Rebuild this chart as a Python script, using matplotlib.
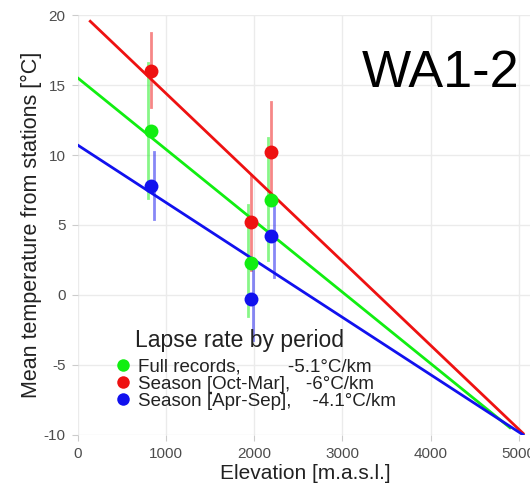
import matplotlib.pyplot as plt
from matplotlib.lines import Line2D
import numpy as np

plt.rcParams["font.family"] = ["Liberation Sans", "DejaVu Sans"]
plt.rcParams["axes.unicode_minus"] = False

# %%
legend_title = "Lapse rate by period"
periods = ["Full records,         -5.1°C/km",
           "Season [Oct-Mar],   -6°C/km",
           "Season [Apr-Sep],    -4.1°C/km"]
colors = ["#11EE11", "#EE1111", "#1111EE"]

station_elev = [830, 1960, 2190]

# mean temperature per period at each station
temp_full = [11.7, 2.3, 6.8]
temp_winter = [16.0, 5.2, 10.2]
temp_summer = [7.8, -0.3, 4.2]

# error bar ranges (low, high)
full_lo = [6.9, -1.5, 2.5]
full_hi = [16.6, 6.4, 11.2]
winter_lo = [13.4, 1.8, 6.6]
winter_hi = [18.7, 8.6, 13.8]
summer_lo = [5.4, -3.2, 1.3]
summer_hi = [10.2, 2.2, 6.8]

# fitted lapse-rate lines: intercept [°C], slope [°C/km], x-range
fit_intercept = [15.5, 20.4, 10.7]
fit_slope = [-5.1, -6.0, -4.1]
fit_start = [0, 140, 0]
fit_end = [4900, 5050, 5050]

# %%
fig = plt.figure(figsize=(5.3, 4.88), dpi=100)
ax = fig.add_axes([0.147, 0.109, 0.86, 0.86])

temps = [temp_full, temp_winter, temp_summer]
los = [full_lo, winter_lo, summer_lo]
his = [full_hi, winter_hi, summer_hi]
dodge = [-30, 0, 30]

for i in range(3):
    xs = np.array(station_elev, dtype=float)
    for x, lo, hi in zip(xs + dodge[i], los[i], his[i]):
        ax.plot([x, x], [lo, hi], color=colors[i], lw=2, alpha=0.5, zorder=2)
    xl = np.array([fit_start[i], fit_end[i]])
    ax.plot(xl, fit_intercept[i] + fit_slope[i] * xl / 1000, color=colors[i], lw=2, zorder=3)
    ax.plot(xs, temps[i], "o", color=colors[i], ms=10, mec="none", zorder=4)

ax.set_xlim(0, 5170)
ax.set_ylim(-10, 20)
ax.set_xticks([0, 1000, 2000, 3000, 4000, 5000])
ax.set_yticks([-10, -5, 0, 5, 10, 15, 20])
ax.grid(True, color="#EBEBEB", lw=1)
ax.set_axisbelow(True)
for s in ax.spines.values():
    s.set_visible(False)
ax.tick_params(axis="both", colors="#CCCCCC", labelcolor="#4D4D4D", labelsize=11, length=4)
ax.tick_params(axis="x", pad=5)
ax.tick_params(axis="y", pad=5)
ax.set_xlabel("Elevation [m.a.s.l.]", fontsize=15, color="#222222", labelpad=2)
ax.set_ylabel("Mean temperature from stations [°C]", fontsize=15.5, color="#222222")
ax.yaxis.set_label_coords(-0.079, 0.5)

ax.text(0.969, 0.862, "WA1-2", transform=ax.transAxes, fontsize=37.5, ha="right", va="center")

handles = [Line2D([], [], marker="o", ls="none", color=c, ms=9, mec="none") for c in colors]
leg = ax.legend(handles, periods, loc="lower left",
                bbox_to_anchor=(0.078, 0.06), frameon=False, fontsize=13.5,
                handletextpad=0.3, labelspacing=0.0,
                borderaxespad=0, borderpad=0, handlelength=1)
for t in leg.get_texts():
    t.set_color("#222222")
ax.text(0.125, 0.225, legend_title, transform=ax.transAxes, fontsize=16.5,
        color="#222222", ha="left", va="center")

plt.savefig("out.png", dpi=100)
